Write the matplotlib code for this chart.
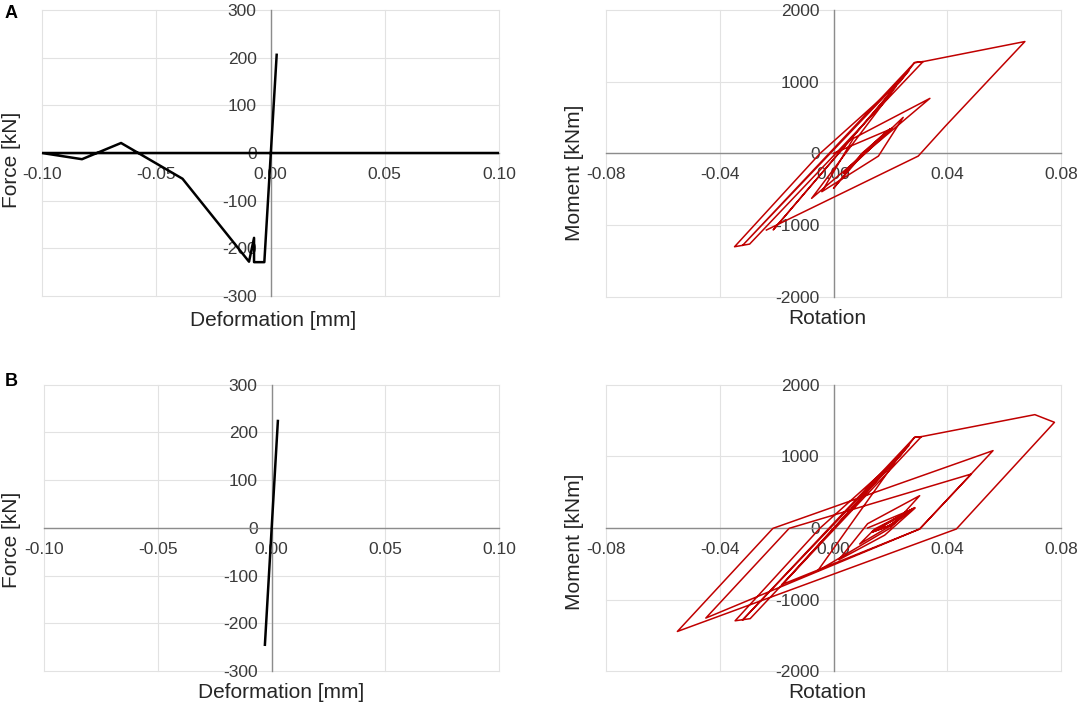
import matplotlib

matplotlib.use("Agg")
import matplotlib.pyplot as plt

plt.rcParams["font.family"] = ["Liberation Sans", "DejaVu Sans"]
plt.rcParams["axes.unicode_minus"] = False

# A, left: force vs deformation
def_a = [0.10, -0.10, -0.0825, -0.0654, -0.0385, -0.0094, -0.0072, -0.0072, -0.0027, 0.0027]
force_a = [0, 0, -13, 21, -54, -228, -178, -229, -229, 206]

# B, left
def_b = [-0.0029, 0.0028]
force_b = [-245, 224]

# A, right: moment vs rotation (hysteresis path)
rot_a = [0.000, 0.0190, 0.0120, 0.0035, 0.0200, 0.0130, 0.0040, 0.0205, 0.0110, 0.0035,
         0.0195, 0.0125, 0.0045, 0.0200, 0.0100, 0.0000, 0.0080,
         0.0245, 0.0158, -0.0041, 0.007, 0.0339, -0.0077, 0.0219, -0.0212, 0.0265,
         -0.0320, 0.0285, 0.0315, -0.0295, -0.0348, -0.0047, 0.0234, 0.0285, 0.0315,
         0.0673, 0.0394, 0.0298, -0.0236]
mom_a = [0, 320, 60, -279, 340, 80, -260, 349, 20, -270,
         330, 70, -250, 345, 0, -488, -120,
         502, -38, -535, 209, 767, -628, 929, -1068, 1150,
         -1285, 1266, 1280, -1266, -1303, 0, 1000, 1266, 1280,
         1560, 382, -38, -1070]

# B, right
rot_b = [0.0120, 0.0270, 0.0200, 0.0135, 0.0285, 0.0210, 0.0140, 0.0280, 0.0190, 0.0135,
         0.0275, 0.0200, 0.0092, 0.0145, 0.0287, 0.018, 0.0019, 0.012,
         0.0303, 0.020, -0.0056, 0.0225, -0.018, 0.0265, -0.0320, 0.0285, 0.0309,
         -0.0293, -0.0346, -0.0047, 0.0234, 0.0285, 0.0309, 0.0708, 0.0777, 0.0432,
         -0.0549, -0.0213, 0.0561, 0.0303, -0.0449, -0.0156, 0.0485, 0.0303, -0.018]
mom_b = [0, 250, 40, -60, 285, 50, -50, 270, 20, -55,
         260, 30, -224, -14, 279, -100, -443, 60,
         451, 0, -600, 968, -787, 1150, -1285, 1265, 1275,
         -1265, -1295, 0, 1000, 1265, 1275, 1582, 1475, -14,
         -1444, -5, 1080, -14, -1257, -5, 754, -14, -787]

def_ticks = [-0.10, -0.05, 0.00, 0.05, 0.10]
force_ticks = [-300, -200, -100, 0, 100, 200, 300]
rot_ticks = [-0.08, -0.04, 0.00, 0.04, 0.08]
mom_ticks = [-2000, -1000, 0, 1000, 2000]

W, H = 1079, 706
TICK_COLOR = "#3a3a3a"
LABEL_COLOR = "#262626"
RED = "#c00000"

fig = plt.figure(figsize=(W / 100, H / 100), dpi=100)


def add_axes(left, top, right, bottom):
    # pixel box -> figure fraction
    return fig.add_axes([left / W, 1 - bottom / H, (right - left) / W, (bottom - top) / H])


def style(ax, xticks, yticks):
    ax.set_xlim(xticks[0], xticks[-1])
    ax.set_ylim(yticks[0], yticks[-1])
    ax.set_xticks(xticks)
    ax.set_yticks(yticks)
    ax.set_xticklabels([f"{v:.2f}" for v in xticks])
    ax.set_yticklabels([f"{v:d}" for v in yticks])
    for s in ("top", "right"):
        ax.spines[s].set_visible(False)
    for s in ("left", "bottom"):
        ax.spines[s].set_position("zero")
        ax.spines[s].set_color("#8c8c8c")
        ax.spines[s].set_linewidth(1.0)
    ax.grid(True, color="#e2e2e2", lw=0.8)
    for gl in ax.get_xgridlines() + ax.get_ygridlines():
        gl.set_clip_on(False)
    ax.set_axisbelow(True)
    ax.tick_params(length=0, pad=10, labelsize=12.5, colors=TICK_COLOR)
    ax.patch.set_visible(False)


def label(x, y, text, rot=0, **kw):
    fig.text(x / W, 1 - y / H, text, ha="center", va="center", rotation=rot,
             fontsize=15, color=LABEL_COLOR, **kw)


ax1 = add_axes(42, 10, 499, 296)
style(ax1, def_ticks, force_ticks)
ax1.plot(def_a, force_a, color="black", lw=1.8, zorder=3)

ax2 = add_axes(606, 10, 1061, 296.7)
style(ax2, rot_ticks, mom_ticks)
ax2.plot(rot_a, mom_a, color=RED, lw=1.1, zorder=3)

ax3 = add_axes(44, 384.7, 499, 671)
style(ax3, def_ticks, force_ticks)
ax3.plot(def_b, force_b, color="black", lw=1.8, zorder=3)

ax4 = add_axes(606, 384.7, 1061, 671.3)
style(ax4, rot_ticks, mom_ticks)
ax4.plot(rot_b, mom_b, color=RED, lw=1.1, zorder=3)

label(273, 320, "Deformation [mm]")
label(12, 160, "Force [kN]", rot=90)
label(827, 319, "Rotation")
label(574, 173, "Moment [kNm]", rot=90)
label(281, 692, "Deformation [mm]")
label(12, 540, "Force [kN]", rot=90)
label(827, 693, "Rotation")
label(574, 542, "Moment [kNm]", rot=90)

fig.text(11 / W, 1 - 13 / H, "A", ha="center", va="center", fontsize=13,
         fontweight="bold", color="black")
fig.text(11 / W, 1 - 382 / H, "B", ha="center", va="center", fontsize=13,
         fontweight="bold", color="black")

fig.savefig("out.png", dpi=100)
